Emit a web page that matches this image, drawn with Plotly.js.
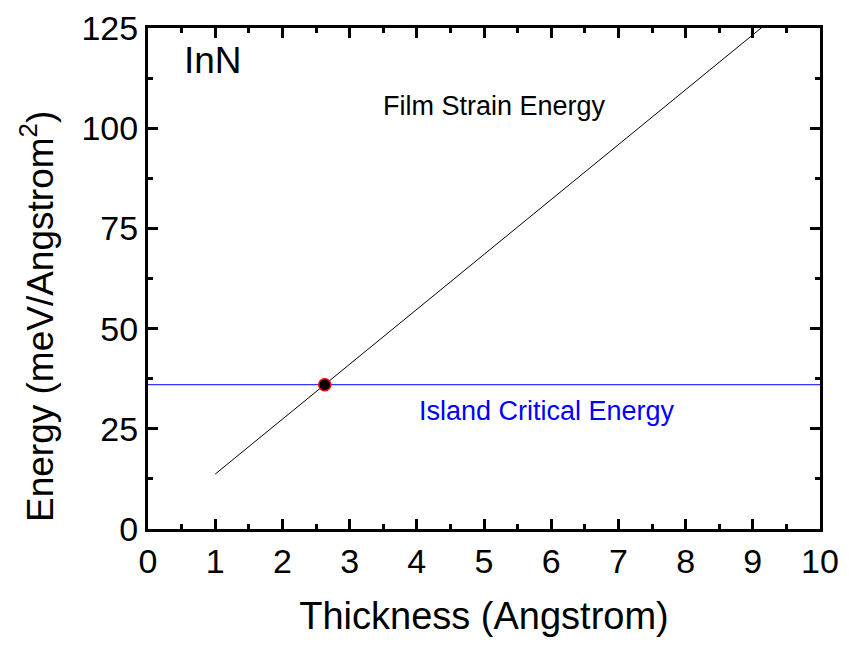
<!DOCTYPE html>
<html>
<head>
<meta charset="utf-8">
<script src="https://cdn.plot.ly/plotly-3.0.1.min.js"></script>
<style>html,body{margin:0;padding:0;background:#fff;}#chart{width:849px;height:648px;}</style>
</head>
<body>
<div id="chart"></div>
<script>
// Film strain energy line (endpoints; clipped at top by axis range)
const filmThickness = [1, 10];
const filmEnergy = [13.7, 137];
// Island critical energy (horizontal line)
const islandThickness = [0, 10];
const islandEnergy = [36, 36];
// Crossing point
const crossThickness = [2.63];
const crossEnergy = [36];

const FONT = 'Arial, "Liberation Sans", sans-serif';

const traces = [
  {x: filmThickness, y: filmEnergy, mode: 'lines', line: {color: '#000', width: 1}, hoverinfo: 'skip'},
  {x: islandThickness, y: islandEnergy, mode: 'lines', line: {color: '#0000ff', width: 1}, hoverinfo: 'skip'},
  {x: crossThickness, y: crossEnergy, mode: 'markers', marker: {color: '#000', size: 12, line: {color: '#ff0000', width: 1.5}}, hoverinfo: 'skip'}
];

const axisCommon = {
  showgrid: false, zeroline: false, showline: true, linecolor: '#000', linewidth: 3,
  mirror: 'allticks', ticks: 'inside', ticklen: 10, tickwidth: 3, tickcolor: '#000',
  tickfont: {family: FONT, size: 34, color: '#000'}
};

const layout = {
  width: 849, height: 648,
  margin: {l: 148, r: 29, t: 28, b: 119},
  paper_bgcolor: '#fff', plot_bgcolor: '#fff',
  showlegend: false,
  font: {family: FONT, color: '#000'},
  xaxis: Object.assign({}, axisCommon, {
    range: [0, 10], dtick: 1, tick0: 0,
    minor: {dtick: 0.5, ticks: 'inside', ticklen: 5, tickwidth: 3, tickcolor: '#000'},
    title: {text: 'Thickness (Angstrom)', font: {family: FONT, size: 38, color: '#000'}, standoff: 24}
  }),
  yaxis: Object.assign({}, axisCommon, {
    range: [0, 125], dtick: 25, tick0: 0,
    minor: {dtick: 12.5, ticks: 'inside', ticklen: 5, tickwidth: 3, tickcolor: '#000'}
  }),
  annotations: [
    {text: 'Energy (meV/Angstrom<sup>2</sup>)', textangle: -90, x: 37, y: 317, xref: 'paper', yref: 'paper', showarrow: false,
     xanchor: 'center', yanchor: 'middle', font: {family: FONT, size: 37, color: '#000'}},
    {text: 'InN', x: 0.05, y: 0.935, xref: 'paper', yref: 'paper', xanchor: 'left', yanchor: 'middle', showarrow: false, font: {family: FONT, size: 37, color: '#000'}},
    {text: 'Film Strain Energy', x: 5.16, y: 105.5, xref: 'x', yref: 'y', xanchor: 'center', yanchor: 'middle', showarrow: false, font: {family: FONT, size: 27, color: '#000'}},
    {text: 'Island Critical Energy', x: 5.94, y: 29.5, xref: 'x', yref: 'y', xanchor: 'center', yanchor: 'middle', showarrow: false, font: {family: FONT, size: 27, color: '#0000ff'}}
  ]
};

// Convert y-title pixel position to paper coords
(function(){
  const plotW = layout.width - layout.margin.l - layout.margin.r;
  const plotH = layout.height - layout.margin.t - layout.margin.b;
  const a = layout.annotations[0];
  a.x = (a.x - layout.margin.l) / plotW;
  a.y = 1 - (a.y - layout.margin.t) / plotH;
})();

Plotly.newPlot('chart', traces, layout, {displayModeBar: false, staticPlot: true});
</script>
</body>
</html>
